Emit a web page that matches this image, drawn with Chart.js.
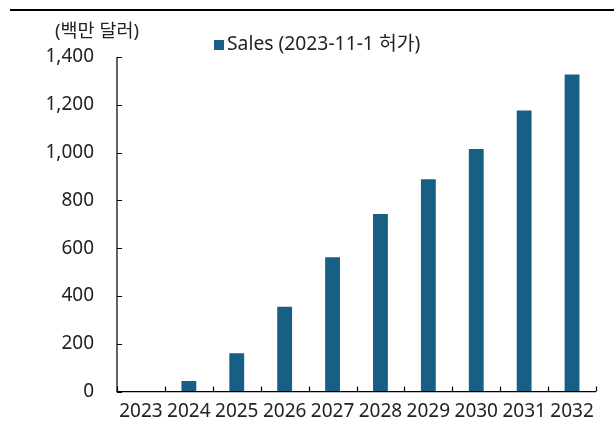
<!DOCTYPE html>
<html>
<head>
<meta charset="utf-8">
<script src="https://cdn.jsdelivr.net/npm/chart.js@4/dist/chart.umd.min.js"></script>
<style>
  html, body { margin: 0; padding: 0; background: #fff; }
  #wrap { position: relative; width: 614px; height: 426px; }
  #rule { position: absolute; left: 10px; top: 9px; width: 604px; height: 2px; background: #000; }
</style>
</head>
<body>
<div id="wrap"><canvas id="chart" width="614" height="426"></canvas><div id="rule"></div></div>
<script>
"use strict";

const YEARS = ["2023", "2024", "2025", "2026", "2027", "2028", "2029", "2030", "2031", "2032"];
const SALES = [2, 44, 160, 355, 562, 743, 889, 1015, 1176, 1327];
const SERIES_LABEL = "Sales (2023-11-1 허가)";
const UNIT_LABEL = "(백만 달러)";
const Y_MAX = 1400;
const Y_STEP = 200;

const BAR_COLOR = "#175f85";
const FONT = '"Noto Sans", "Noto Sans CJK KR", sans-serif';
const TEXT_COLOR = "#222";

// Axis lines with inward tick marks, unit label and legend
const decorations = {
  id: "decorations",
  afterDraw(chart) {
    const { ctx, chartArea: a, scales: { x, y } } = chart;
    ctx.save();
    ctx.strokeStyle = "#000";
    ctx.lineWidth = 1.2;

    // axes
    ctx.beginPath();
    ctx.moveTo(a.left, a.top);
    ctx.lineTo(a.left, a.bottom);
    ctx.lineTo(a.right, a.bottom);
    ctx.stroke();

    // y ticks pointing right
    ctx.beginPath();
    y.ticks.forEach(t => {
      const py = Math.round(y.getPixelForValue(t.value)) + 0.5;
      ctx.moveTo(a.left, py);
      ctx.lineTo(a.left + 5, py);
    });
    ctx.stroke();

    // x ticks pointing up at category boundaries
    ctx.beginPath();
    for (let i = 0; i <= YEARS.length; i++) {
      const px = Math.round(x.getPixelForValue(i - 0.5)) + 0.5;
      ctx.moveTo(px, a.bottom);
      ctx.lineTo(px, a.bottom - 5);
    }
    ctx.stroke();

    // unit label
    ctx.fillStyle = TEXT_COLOR;
    ctx.font = "18.5px " + FONT;
    ctx.textBaseline = "middle";
    ctx.textAlign = "left";
    ctx.fillText(UNIT_LABEL, 55, 32);

    // legend
    ctx.fillStyle = BAR_COLOR;
    ctx.fillRect(214, 40, 10, 10);
    ctx.fillStyle = TEXT_COLOR;
    ctx.font = "19.3px " + FONT;
    ctx.fillText(SERIES_LABEL, 227, 45);
    ctx.restore();
  },
};

new Chart(document.getElementById("chart").getContext("2d"), {
  type: "bar",
  data: {
    labels: YEARS,
    datasets: [{
      label: SERIES_LABEL,
      data: SALES,
      backgroundColor: BAR_COLOR,
      borderWidth: 0,
      barPercentage: 0.62,
      categoryPercentage: 0.5,
    }],
  },
  options: {
    responsive: false,
    animation: false,
    layout: { padding: { top: 57, right: 18, bottom: 0, left: 0 } },
    plugins: {
      legend: { display: false },
      tooltip: { enabled: false },
    },
    scales: {
      x: {
        grid: { display: false, drawTicks: false },
        border: { display: false },
        ticks: {
          color: TEXT_COLOR,
          font: { family: FONT, size: 19 },
          padding: 9,
          maxRotation: 0,
          autoSkip: false,
        },
        afterFit: s => { s.height = 34; },
      },
      y: {
        min: 0,
        max: Y_MAX,
        grid: { display: false, drawTicks: false },
        border: { display: false },
        ticks: {
          stepSize: Y_STEP,
          color: TEXT_COLOR,
          font: { family: FONT, size: 19 },
          padding: 23,
          callback: v => v.toLocaleString("en-US"),
        },
        afterFit: s => { s.width = 117; },
      },
    },
  },
  plugins: [decorations],
});
</script>
</body>
</html>
